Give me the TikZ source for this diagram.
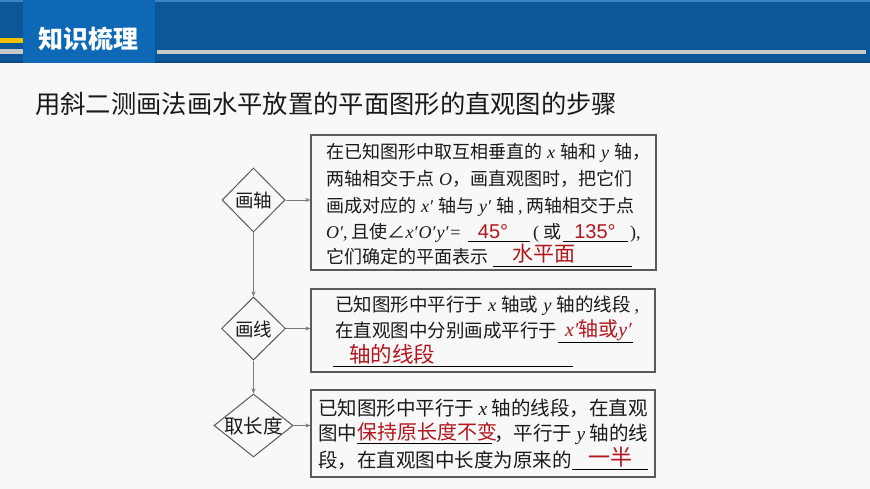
\documentclass[tikz,border=0pt]{standalone}
\usepackage{fontspec}
\setmainfont{Noto Sans CJK SC}
\newfontfamily\tnr{Liberation Serif}
\newfontfamily\lsans{Liberation Sans}
\usetikzlibrary{shapes.geometric,arrows.meta}
\definecolor{bandblue}{HTML}{0B5798}
\definecolor{banddark}{HTML}{084A84}
\definecolor{tabblue}{HTML}{0F68B6}
\definecolor{topline}{HTML}{3A82C4}
\definecolor{ansred}{HTML}{B3161C}
\definecolor{boxgray}{HTML}{5A5A5A}
\definecolor{linegray}{HTML}{7A7A7A}
\definecolor{bgcol}{HTML}{F8F8F8}
\definecolor{stripegray}{HTML}{C8C8C8}
\definecolor{stripeyellow}{HTML}{F2C200}
\definecolor{txtcol}{HTML}{1A1A1A}
\newcommand{\myx}{{\tnr\itshape x}}
\newcommand{\myy}{{\tnr\itshape y}}
\newcommand{\myO}{{\tnr\itshape O}}
\newcommand{\myxp}{{\tnr\itshape x′}}
\newcommand{\myyp}{{\tnr\itshape y′}}
\newcommand{\myOp}{{\tnr\itshape O′}}
\newcommand{\gapw}{\hspace{5pt}}
\begin{document}
\begin{tikzpicture}[x=1pt,y=-1pt,
  txta/.style={anchor=base west, inner sep=0pt, text=txtcol, font=\fontsize{18}{22}\selectfont},
  txtb/.style={anchor=base west, inner sep=0pt, text=txtcol, font=\fontsize{18.5}{22}\selectfont},
  txtc/.style={anchor=base west, inner sep=0pt, text=txtcol, font=\fontsize{19.5}{22}\selectfont},
  ans/.style={anchor=base west, inner sep=0pt, text=ansred, font=\fontsize{21}{24}\selectfont},
  ansnum/.style={anchor=base, inner sep=0pt, text=ansred, font=\lsans\fontsize{20}{24}\selectfont},
  uline/.style={draw=black, line width=0.8pt},
  stepbox/.style={draw=boxgray, line width=1.2pt, rectangle, inner sep=0pt},
  dia/.style={diamond, draw=boxgray, line width=1pt, inner sep=0pt},
  dlabel/.style={inner sep=0pt, text=txtcol},
  conn/.style={draw=linegray, line width=0.9pt, -{Stealth[length=5pt,width=4pt]}}]
\useasboundingbox (0,0) rectangle (870,489);
\fill[bgcol] (0,0) rectangle (870,489);
% header
\fill[bandblue] (0,0) rectangle (870,63);
\fill[topline] (0,0) rectangle (870,2);
\fill[banddark] (0,61) rectangle (870,63);
\fill[tabblue] (23,0) rectangle (155,63);
\fill[stripeyellow] (0,38) rectangle (23,43);
\fill[stripegray] (0,49) rectangle (23,54);
\fill[stripegray] (157,50) rectangle (866,54);
\node[anchor=base west, inner sep=0pt, text=white, font=\bfseries\fontsize{25}{28}\selectfont] (title) at (38,49) {知识梳理};
\node[anchor=base west, inner sep=0pt, text=txtcol, font=\fontsize{25.3}{28}\selectfont] (subtitle) at (35,114) {用斜二测画法画水平放置的平面图形的直观图的步骤};
% diamonds
\node[dia, minimum width=63pt, minimum height=64pt] (d1) at (253.5,200) {};
\node[dia, minimum width=64pt, minimum height=63pt] (d2) at (253.5,328.5) {};
\node[dia, minimum width=79pt, minimum height=63pt] (d3) at (253.5,425.5) {};
\node[dlabel, font=\fontsize{18.5}{20}\selectfont] (l1) at (253.5,200) {画轴};
\node[dlabel, font=\fontsize{18.5}{20}\selectfont] (l2) at (253.5,329.5) {画线};
\node[dlabel, font=\fontsize{19.5}{24}\selectfont] (l3) at (253.5,426.5) {取长度};
% boxes
\node[stepbox, minimum width=345pt, minimum height=135pt] (b1) at (483.5,202.5) {};
\node[stepbox, minimum width=344pt, minimum height=83pt] (b2) at (483,330.5) {};
\node[stepbox, minimum width=344pt, minimum height=87pt] (b3) at (483,433.5) {};
% connectors
\draw[conn] (d1.east) -- (d1.east -| b1.west);
\draw[conn] (d2.east) -- (d2.east -| b2.west);
\draw[conn] (d3.east) -- (d3.east -| b3.west);
\draw[conn] (d1.south) -- (d2.north);
\draw[conn] (d2.south) -- (d3.north);
% box 1 text
\node[txta] (t11) at (326,159) {在已知图形中取互相垂直的\gapw\myx\gapw 轴和\gapw\myy\gapw 轴，};
\node[txta] (t12) at (326,186) {两轴相交于点\gapw\myO，画直观图时，把它们};
\node[txta] (t13) at (326,213) {画成对应的\gapw\myxp\gapw 轴与\gapw\myyp\gapw 轴{\tnr\hspace{4pt},\hspace{4pt}}两轴相交于点};
\node[txta] (t14) at (326,239) {\myOp{\tnr,\hspace{4pt}}且使∠\myxp\hspace{1pt}\myOp\hspace{1pt}\myyp{\tnr\hspace{2pt}=}};
\draw[uline] (468,241) -- (530,241);
\node[ansnum] (a11) at (493,238) {45°};
\node[txta] (t14b) at (533,239) {{\tnr(\hspace{4pt}}或};
\draw[uline] (563,241) -- (628,241);
\node[ansnum] (a12) at (595,238) {135°};
\node[txta] (t14c) at (630,239) {{\tnr),}};
\node[txta] (t15) at (326,263) {它们确定的平面表示};
\draw[uline] (493,266) -- (632,266);
\node[ans] (a13) at (512,261) {水平面};
% box 2 text
\node[txtb] (t21) at (335,311) {已知图形中平行于\gapw\myx\gapw 轴或\gapw\myy\gapw 轴的线段{\tnr\hspace{4pt},}};
\node[txtb] (t22) at (335,337) {在直观图中分别画成平行于};
\draw[uline] (558,342) -- (633,342);
\node[ans, font=\fontsize{20}{24}\selectfont] (a21) at (565,336) {{\tnr\itshape x′}轴或{\tnr\itshape y′}};
\node[ans, font=\fontsize{21.5}{24}\selectfont] (a22) at (349,362) {轴的线段};
\draw[uline] (333,366) -- (573,366);
% box 3 text
\node[txtc] (t31) at (318,415) {已知图形中平行于\hspace{4.5pt}\myx\hspace{4.5pt}轴的线段，在直观};
\node[txtc] (t32) at (318,440) {图中};
\node[ans, font=\fontsize{20}{24}\selectfont] (a31) at (357,439) {保持原长度不变};
\draw[uline] (357,443) -- (492,443);
\node[txtc] (t32b) at (494,440) {，平行于\hspace{4.5pt}\myy\hspace{4.5pt}轴的线};
\node[txtc] (t33) at (318,467) {段，在直观图中长度为原来的};
\draw[uline] (572,469) -- (648,469);
\node[ans, anchor=base, font=\fontsize{22}{24}\selectfont] (a32) at (610,465) {一半};
\end{tikzpicture}
\end{document}
